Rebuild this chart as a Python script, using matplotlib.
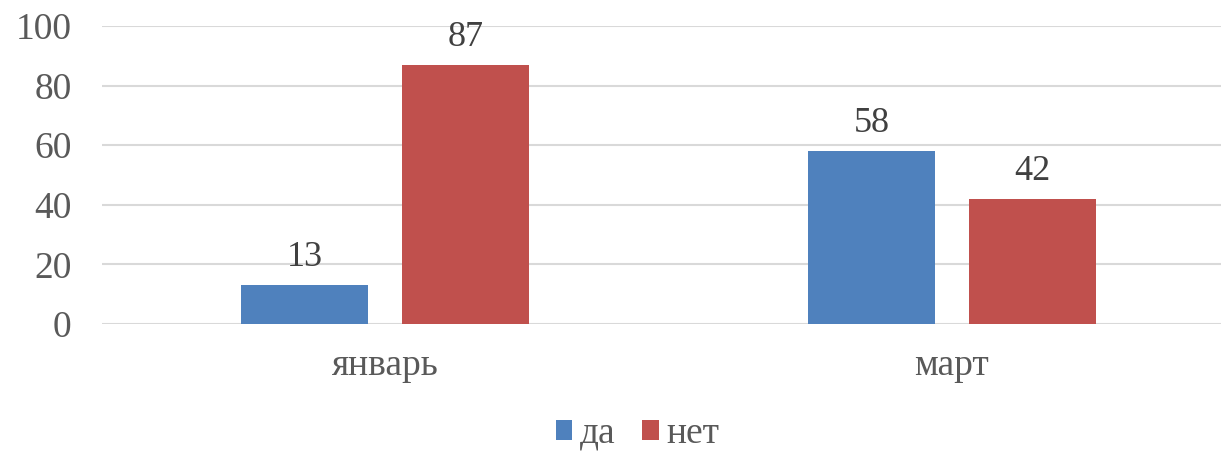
import numpy as np
import matplotlib
matplotlib.use("Agg")
from matplotlib import pyplot as plt

categories = ["январь", "март"]
series_names = ["да", "нет"]
yes_values = [13, 58]
no_values = [87, 42]
y_ticks = [0, 20, 40, 60, 80, 100]

plt.rcParams['font.family'] = ['Liberation Serif', 'DejaVu Serif']

fig = plt.figure(figsize=(12.21, 4.53), dpi=100)
ax = fig.add_axes([0.0835, 0.2848, 0.928, 0.6578])

x = np.arange(len(categories))
width = 0.224
offset = 0.142
b1 = ax.bar(x - offset, yes_values, width, color='#4F81BD', label=series_names[0], zorder=3)
b2 = ax.bar(x + offset, no_values, width, color='#C0504D', label=series_names[1], zorder=3)

for bars in (b1, b2):
    for rect in bars:
        h = rect.get_height()
        ax.annotate(str(int(h)), (rect.get_x() + rect.get_width() / 2, h),
                    xytext=(0, 8), textcoords='offset points',
                    ha='center', va='bottom', fontsize=26, color='#404040')

ax.set_xlim(-0.5, 1.5)
ax.set_ylim(0, 100)
ax.set_yticks(y_ticks)
ax.set_xticks(x)
ax.set_xticklabels(categories)
ax.tick_params(axis='y', labelsize=27, colors='#595959', length=0, pad=22)
ax.tick_params(axis='x', labelsize=27, colors='#595959', length=0, pad=18)
ax.grid(axis='y', color='#D9D9D9', linewidth=1.5, zorder=0)
for s in ax.spines.values():
    s.set_visible(False)

fig.legend(loc='lower center', bbox_to_anchor=(0.522, -0.07), ncol=2, frameon=False,
           fontsize=27, handlelength=0.45, handleheight=0.45, handletextpad=0.2,
           columnspacing=0.7, labelcolor='#595959')

fig.savefig("out.png", dpi=100)
